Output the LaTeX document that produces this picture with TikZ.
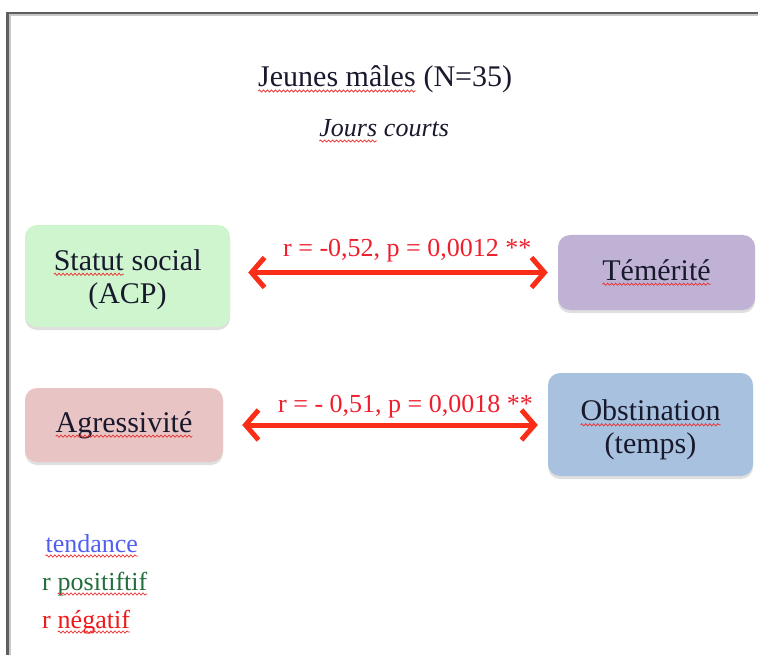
\documentclass[tikz,border=0pt]{standalone}
\usepackage{fontspec}
\setmainfont{Liberation Serif}
\usetikzlibrary{arrows.meta,shadows,decorations.pathmorphing}

\definecolor{framedark}{RGB}{95,95,95}
\definecolor{framelight}{RGB}{200,200,200}
\definecolor{ink}{RGB}{25,25,45}
\definecolor{boxgreen}{RGB}{206,245,206}
\definecolor{boxlilac}{RGB}{191,178,212}
\definecolor{boxrose}{RGB}{232,196,196}
\definecolor{boxblue}{RGB}{167,193,223}
\definecolor{linkred}{RGB}{250,45,25}
\definecolor{labelred}{RGB}{238,30,45}
\definecolor{legblue}{RGB}{80,95,240}
\definecolor{leggreen}{RGB}{35,110,60}
\definecolor{legred}{RGB}{240,25,25}
\definecolor{spellred}{RGB}{235,45,45}

% wavy red underline under a word
\newcommand\spell[1]{\tikz[baseline=(sp.base)]{%
  \node[inner sep=0pt, outer sep=0pt, draw=none, fill=none, shape=rectangle,
    sharp corners, minimum width=0pt, minimum height=0pt, align=none, anchor=base] (sp) {#1};
  \draw[spellline] ([yshift=-4pt]sp.base west) -- ([yshift=-4pt]sp.base east);}}
% taller first line, to lower a two-line label inside its box
\newcommand\lift[1]{\rule{0pt}{#1}}

\tikzset{
  spellline/.style={spellred, line width=0.7pt, sharp corners, decorate,
    decoration={snake, amplitude=1.1pt, segment length=4pt}},
  varbox/.style={rounded corners=12pt, draw=none, text=ink, align=center,
    inner sep=0pt, font=\fontsize{30}{33}\selectfont,
    drop shadow={shadow xshift=0pt, shadow yshift=-3pt, opacity=0.25}},
  link/.style={linkred, line width=5pt,
    {Straight Barb[length=13pt,width=30pt]}-{Straight Barb[length=13pt,width=30pt]}},
  corr/.style={text=labelred, font=\fontsize{26}{30}\selectfont, inner sep=0pt, anchor=base west},
  legend/.style={font=\fontsize{26}{30}\selectfont, inner sep=0pt, anchor=base west},
  heading/.style={text=ink, inner sep=0pt, anchor=base},
}

\begin{document}
\begin{tikzpicture}[x=1pt,y=-1pt]
\useasboundingbox (0,0) rectangle (758,655);

% page frame
\draw[framelight, line width=1.8pt] (10,655) -- (10,15) -- (758,15);
\draw[framedark, line width=2.4pt] (7.5,655) -- (7.5,12.8) -- (758,12.8);

% headings
\node[heading, font=\fontsize{30}{36}\selectfont] (title) at (385,87) {\spell{Jeunes mâles} (N=35)};
\node[heading, font=\fontsize{26}{30}\selectfont\itshape] (season) at (384,137) {\spell{Jours} courts};

% variables
\node[varbox, fill=boxgreen, minimum width=205pt, minimum height=102pt] (statut) at (127.5,276) {\lift{28pt}\spell{Statut} social\\(ACP)};
\node[varbox, fill=boxlilac, minimum width=197pt, minimum height=75pt] (temerite) at (656.5,272.5) {\spell{Témérité}};
\node[varbox, fill=boxrose, minimum width=198pt, minimum height=74pt] (agress) at (124,425) {\spell{Agressivité}};
\node[varbox, fill=boxblue, minimum width=205pt, minimum height=103pt] (obst) at (650.5,424.5) {\lift{32pt}\spell{Obstination}\\(temps)};

% correlations
\draw[link, shorten <=18pt, shorten >=10pt] (statut.east |- temerite.west) -- (temerite.west);
\draw[link, shorten <=19pt, shorten >=10pt] (agress.east) -- (agress.east -| obst.west);
\node[corr] (r1) at (283,257) {r = -0,52, p = 0,0012 **};
\node[corr] (r2) at (278,412) {r = - 0,51, p = 0,0018 **};

% legend
\node[legend, text=legblue] (l1) at (45,552) {\spell{tendance}};
\node[legend, text=leggreen] (l2) at (42,590) {r \spell{positiftif}};
\node[legend, text=legred] (l3) at (42,628) {r \spell{négatif}};
\end{tikzpicture}
\end{document}
